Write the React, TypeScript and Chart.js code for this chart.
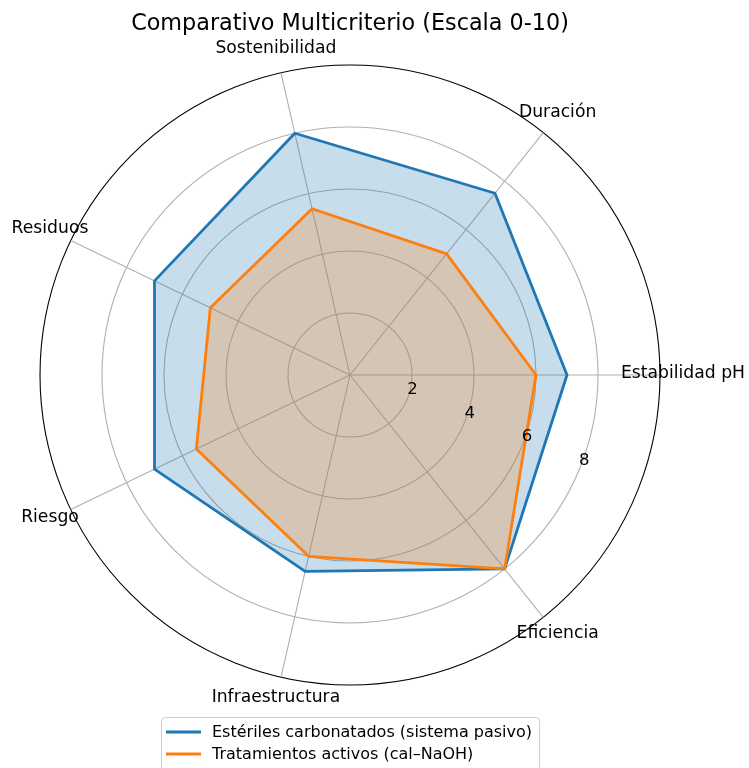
import React, { useEffect, useRef } from 'react';
import { Chart, registerables } from 'chart.js';

Chart.register(...registerables);

const TITLE = 'Comparativo Multicriterio (Escala 0-10)';
// Categories listed counter-clockwise starting at the right (east), as in the reference
const categories = ['Estabilidad pH', 'Duración', 'Sostenibilidad', 'Residuos', 'Riesgo', 'Infraestructura', 'Eficiencia'];
const seriesNames = ['Estériles carbonatados (sistema pasivo)', 'Tratamientos activos (cal–NaOH)'];
const pasivoValues = [7, 7.5, 8, 7, 7, 6.5, 8];
const activoValues = [6, 5, 5.5, 5, 5.5, 6, 8];
const radialTicks = [2, 4, 6, 8];
const scaleMax = 10;

const FONT = '"DejaVu Sans", Verdana, sans-serif';
const BLUE = '#1f77b4';
const ORANGE = '#ff7f0e';

// Chart.js goes clockwise; reorder so the result reads counter-clockwise
const ccw = <T,>(arr: T[]): T[] => [arr[0], ...arr.slice(1).reverse()];

const overlayPlugin = {
  id: 'mplOverlay',
  afterDraw(chart: any) {
    const ctx = chart.ctx as CanvasRenderingContext2D;
    const r = chart.scales.r;
    ctx.save();
    ctx.fillStyle = '#000';

    // Title
    ctx.font = `22.3px ${FONT}`;
    ctx.textAlign = 'center';
    ctx.textBaseline = 'alphabetic';
    ctx.fillText(TITLE, r.xCenter, 30);

    // Category labels
    ctx.font = `17.2px ${FONT}`;
    (chart.data.labels as string[]).forEach((lab, i) => {
      const p = r.getPointPosition(i, r.drawingArea + 23);
      ctx.fillText(lab, p.x, p.y + 2.6);
    });

    // Radial tick labels along -22.5deg
    ctx.font = `16.5px ${FONT}`;
    ctx.textAlign = 'left';
    const a = (22.5 * Math.PI) / 180;
    radialTicks.forEach((v) => {
      const d = r.getDistanceFromCenterForValue(v);
      const x = r.xCenter + d * Math.cos(a);
      const y = r.yCenter + d * Math.sin(a);
      ctx.fillText(String(v), x, y - 4.8);
    });

    // Legend
    const bx = 161.5, by = 717.5, bw = 378, bh = 54, rad = 4;
    ctx.beginPath();
    ctx.moveTo(bx + rad, by);
    ctx.lineTo(bx + bw - rad, by);
    ctx.quadraticCurveTo(bx + bw, by, bx + bw, by + rad);
    ctx.lineTo(bx + bw, by + bh - rad);
    ctx.quadraticCurveTo(bx + bw, by + bh, bx + bw - rad, by + bh);
    ctx.lineTo(bx + rad, by + bh);
    ctx.quadraticCurveTo(bx, by + bh, bx, by + bh - rad);
    ctx.lineTo(bx, by + rad);
    ctx.quadraticCurveTo(bx, by, bx + rad, by);
    ctx.closePath();
    ctx.fillStyle = 'rgba(255,255,255,0.8)';
    ctx.fill();
    ctx.strokeStyle = '#cccccc';
    ctx.lineWidth = 1;
    ctx.stroke();

    ctx.font = `16px ${FONT}`;
    ctx.textAlign = 'left';
    ctx.textBaseline = 'alphabetic';
    chart.data.datasets.forEach((ds: any, i: number) => {
      const cy = 732 + i * 22;
      ctx.strokeStyle = ds.borderColor;
      ctx.lineWidth = 2.8;
      ctx.beginPath();
      ctx.moveTo(166, cy);
      ctx.lineTo(201, cy);
      ctx.stroke();
      ctx.fillStyle = '#000';
      ctx.fillText(ds.label, 212, cy + 5);
    });

    ctx.restore();
  },
};

export default function App() {
  const canvasRef = useRef<HTMLCanvasElement | null>(null);

  useEffect(() => {
    if (!canvasRef.current) return;
    const chart = new Chart(canvasRef.current, {
      type: 'radar',
      data: {
        labels: ccw(categories),
        datasets: [
          {
            label: seriesNames[0],
            data: ccw(pasivoValues),
            borderColor: BLUE,
            backgroundColor: 'rgba(31,119,180,0.25)',
            borderWidth: 2.8,
            borderJoinStyle: 'round',
            pointRadius: 0,
            pointHoverRadius: 0,
            fill: true,
            order: 2,
          },
          {
            label: seriesNames[1],
            data: ccw(activoValues),
            borderColor: ORANGE,
            backgroundColor: 'rgba(255,127,14,0.25)',
            borderWidth: 2.8,
            borderJoinStyle: 'round',
            pointRadius: 0,
            pointHoverRadius: 0,
            fill: true,
            order: 1,
          },
        ],
      },
      options: {
        responsive: false,
        animation: false,
        events: [],
        layout: { padding: { left: 40, top: 65, right: 88, bottom: 82 } },
        plugins: {
          legend: { display: false },
          title: { display: false },
          tooltip: { enabled: false },
        },
        scales: {
          r: {
            min: 0,
            max: scaleMax,
            startAngle: 90,
            ticks: { display: false, stepSize: 2 },
            pointLabels: { display: false },
            grid: {
              circular: true,
              lineWidth: 1.1,
              color: (c: any) => (c.tick && c.tick.value === scaleMax ? '#000000' : '#b0b0b0'),
            },
            angleLines: { color: '#b0b0b0', lineWidth: 1.1 },
          },
        },
      },
      plugins: [overlayPlugin],
    } as any);
    return () => chart.destroy();
  }, []);

  return (
    <div style={{ position: 'fixed', left: 0, top: 0, width: 749, height: 768, background: '#fff' }}>
      <canvas ref={canvasRef} width={749} height={768} style={{ display: 'block' }} />
    </div>
  );
}
